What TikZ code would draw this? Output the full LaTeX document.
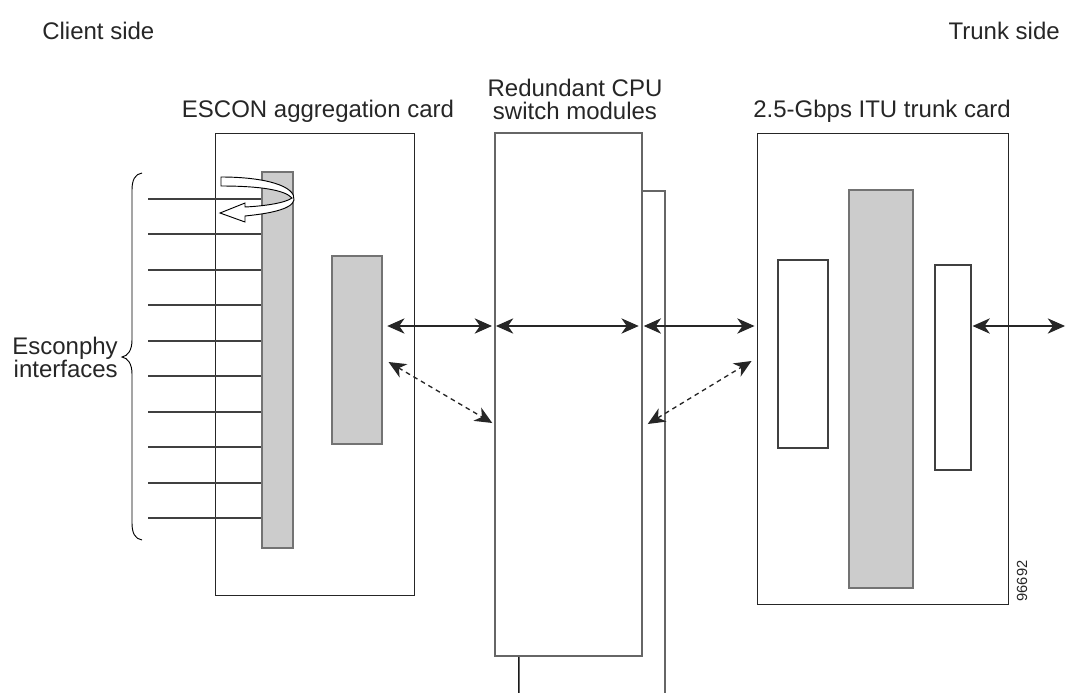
\documentclass[tikz,border=0pt]{standalone}
\usepackage{fontspec}
\setmainfont{Liberation Sans}
\usetikzlibrary{arrows.meta,fit,calc}
\begin{document}
\begin{tikzpicture}[x=0.75pt,y=-0.75pt,
  card/.style={draw=black!85, line width=0.7pt, inner sep=0pt, fill=white},
  cpubox/.style={draw=black!60, line width=1.1pt, inner sep=0pt, fill=white},
  chip/.style={draw=black!55, line width=0.8pt, inner sep=0pt, fill=black!20},
  port/.style={draw=black!75, line width=0.8pt, inner sep=0pt, fill=white},
  lbl/.style={font=\fontsize{18}{17.25}\selectfont, inner sep=0pt, text=black!85},
  link/.style={line width=1pt, draw=black!85, {Stealth[length=13pt,width=11.5pt,inset=4pt]}-{Stealth[length=13pt,width=11.5pt,inset=4pt]}},
  dlink/.style={link, dash pattern=on 3.5pt off 3pt},
  wire/.style={draw=black!75, line width=0.8pt},
]
\useasboundingbox (0,0) rectangle (1066,692);
\clip (0,0) rectangle (1066,692);

% cards
\node[card, fit={(215,133) (414,595)}] (escon) {};
\node[chip, fit={(262,172) (293,548)}] (bar) {};
\node[chip, fit={(332,256) (382,444)}] (asic) {};

\node[cpubox, fit={(519,191) (665,760)}] (cpuB) {};
\draw[line width=0.7pt, black!90] (cpuB.north west) -- (cpuB.south west);
\node[cpubox, fit={(495,133) (642,656)}] (cpuA) {};

\node[card, fit={(757,133) (1008,604)}] (trunk) {};
\node[port, fit={(778,260) (828,448)}] (tl) {};
\node[chip, fit={(849,190) (913,588)}] (tg) {};
\node[port, fit={(935,265) (971,470)}] (tr) {};

% interface wires
\foreach \y [count=\i] in {199,234,270,305,341,376,412,447,483,518}{
  \coordinate (w\i) at (148,\y);
  \draw[wire] (w\i) -- (w\i -| bar.west);
}

% brace
\draw[line width=0.7pt] (142,173) .. controls (135,174) and (132,180) .. (132,190)
  -- (132,340) .. controls (132,350) and (128,356) .. (122,357)
  .. controls (128,358) and (132,364) .. (132,374)
  -- (132,523) .. controls (132,533) and (135,539) .. (142,540);

% loop-back arrow
\draw[line width=0.7pt, fill=white, line join=miter]
  (221,177) .. controls (265,177) and (296,186) .. (294,200)
  .. controls (292,210) and (265,214) .. (245,216)
  -- (245,222) -- (220,213) -- (245,203) -- (245,207)
  .. controls (265,206) and (285,203) .. (292,198)
  .. controls (285,190) and (260,186) .. (221,186) -- cycle;

% connectors
\coordinate (h) at (0,326);
\coordinate (dl) at (0,362);
\coordinate (dr) at (0,424);
\coordinate (dr2) at (0,423);
\coordinate (out) at (1065,326);
\draw[link] ($(asic.east|-h)+(4.7,0)$) -- ($(cpuA.west|-h)+(-2.3,0)$);
\draw[link] ($(cpuA.west|-h)+(1.7,0)$) -- ($(cpuA.east|-h)+(-4,0)$);
\draw[link] ($(cpuA.east|-h)+(1,0)$) -- ($(trunk.west|-h)+(-2,0)$);
\draw[link] ($(tr.east|-h)+(1,0)$) -- (out);
\draw[dlink] ($(asic.east|-dl)+(6,0)$) -- ($(cpuA.west|-dr2)+(-2,0)$);
\draw[dlink] ($(cpuA.east|-dr)+(5,0)$) -- ($(trunk.west|-dl)+(-5,-1)$);

% labels
\node[lbl, anchor=base west] (client) at (42,40) {Client side};
\node[lbl, anchor=base east] (trunkside) at (1060,40) {Trunk side};
\node[lbl, anchor=base] (esconlbl) at (318,117) {ESCON aggregation card};
\node[lbl, anchor=north, align=center] (cpulbl) at (575,79) {Redundant CPU\\switch modules};
\node[lbl, anchor=base] (trunklbl) at (882,117) {2.5-Gbps ITU trunk card};
\node[lbl, anchor=east, align=right] (iface) at (118,357) {Esconphy\\interfaces};
\node[font=\fontsize{11}{13}\selectfont, rotate=90, inner sep=0pt, text=black!85] (num) at (1022,581) {96692};
\end{tikzpicture}
\end{document}
